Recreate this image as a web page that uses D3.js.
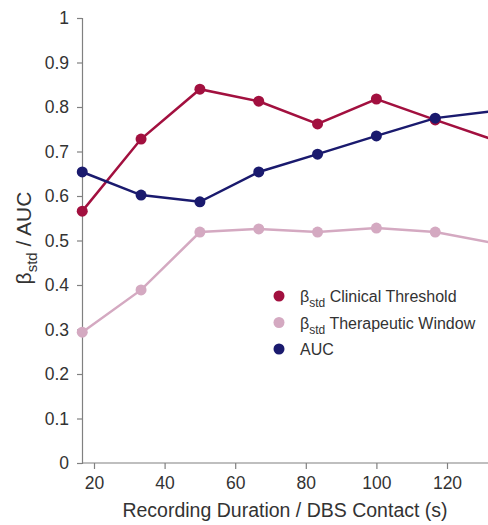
<!DOCTYPE html>
<html>
<head>
<meta charset="utf-8">
<script src="https://cdn.jsdelivr.net/npm/d3@7"></script>
<style>
  body { margin: 0; background: #fff; }
  svg { display: block; font-family: "Liberation Sans", Arial, sans-serif; }
</style>
</head>
<body>
<div id="chart"></div>
<script>
const durations = [16.67, 33.33, 50, 66.67, 83.33, 100, 116.67, 133.33];
const clinical = [0.566, 0.728, 0.840, 0.813, 0.762, 0.818, 0.771, 0.726];
const therapeutic = [0.294, 0.389, 0.519, 0.526, 0.519, 0.528, 0.519, 0.494];
const auc = [0.654, 0.602, 0.587, 0.654, 0.694, 0.735, 0.775, 0.791];
const xTicks = [20, 40, 60, 80, 100, 120];
const yTicks = [0, 0.1, 0.2, 0.3, 0.4, 0.5, 0.6, 0.7, 0.8, 0.9, 1];

const series = [
  { name: "Clinical Threshold", beta: true, values: clinical, color: "#a2103f" },
  { name: "Therapeutic Window", beta: true, values: therapeutic, color: "#d4a9c1" },
  { name: "AUC", beta: false, values: auc, color: "#1a1a6e" }
];

const W = 488, H = 525;
const margin = { top: 18, right: 0, bottom: 62, left: 82 };
const width = W - margin.left - margin.right;
const height = H - margin.top - margin.bottom;

const svg = d3.select("#chart").append("svg")
  .attr("width", W)
  .attr("height", H);

const g = svg.append("g")
  .attr("transform", `translate(${margin.left},${margin.top})`);

// 20 -> 12px, 120 -> 365px inside the plot
const x = d3.scaleLinear()
  .domain([20, 120])
  .range([12, 365]);

const y = d3.scaleLinear()
  .domain([0, 1])
  .range([height, 0]);

const axisColor = "#808080";
const textColor = "#333";

const xAxis = g.append("g")
  .attr("transform", `translate(0,${height})`)
  .call(d3.axisBottom(x).tickValues(xTicks).tickSize(6).tickPadding(8).tickFormat(d3.format("d")));
xAxis.select(".domain").attr("d", `M0,0H${width}`);

const yAxis = g.append("g")
  .call(d3.axisLeft(y).tickValues(yTicks).tickSize(5).tickPadding(8).tickFormat(d => d === 0 ? "0" : d === 1 ? "1" : d3.format(".1f")(d)));

[xAxis, yAxis].forEach(a => {
  a.select(".domain").attr("stroke", axisColor).attr("stroke-width", 1.2);
  a.selectAll(".tick line").attr("stroke", axisColor).attr("stroke-width", 1.2);
  a.selectAll(".tick text").attr("fill", textColor).style("font-size", "17.5px");
});

const clip = svg.append("defs").append("clipPath").attr("id", "plotclip")
  .append("rect").attr("x", -10).attr("y", -10).attr("width", width + 10).attr("height", height + 20);

const plot = g.append("g").attr("clip-path", "url(#plotclip)");

const line = d3.line()
  .x((d, i) => x(durations[i]))
  .y(d => y(d));

series.forEach(s => {
  plot.append("path")
    .datum(s.values)
    .attr("fill", "none")
    .attr("stroke", s.color)
    .attr("stroke-width", 2.5)
    .attr("d", line);
  plot.selectAll(null)
    .data(s.values)
    .enter()
    .append("circle")
    .attr("cx", (d, i) => x(durations[i]))
    .attr("cy", d => y(d))
    .attr("r", 5.5)
    .attr("fill", s.color);
});

// axis labels
g.append("text")
  .attr("x", 203)
  .attr("y", height + 54)
  .attr("text-anchor", "middle")
  .attr("fill", textColor)
  .style("font-size", "19.5px")
  .text("Recording Duration / DBS Contact (s)");

const ylab = svg.append("text")
  .attr("transform", `translate(31,238) rotate(-90)`)
  .attr("text-anchor", "middle")
  .attr("fill", textColor)
  .style("font-size", "21px");
ylab.append("tspan").text("β");
ylab.append("tspan").attr("dy", 6).style("font-size", "15px").text("std");
ylab.append("tspan").attr("dy", -6).text(" / AUC");

// legend
const legend = svg.append("g").attr("transform", "translate(279,296)");
series.forEach((s, i) => {
  const row = legend.append("g").attr("transform", `translate(0,${i * 26.5})`);
  row.append("circle").attr("r", 5.5).attr("fill", s.color);
  const t = row.append("text")
    .attr("x", 21)
    .attr("y", 6)
    .attr("fill", textColor)
    .style("font-size", "16px");
  if (s.beta) {
    t.append("tspan").text("β");
    t.append("tspan").attr("dy", 5).style("font-size", "12px").text("std");
    t.append("tspan").attr("dy", -5).text(" " + s.name);
  } else {
    t.text(s.name);
  }
});
</script>
</body>
</html>
